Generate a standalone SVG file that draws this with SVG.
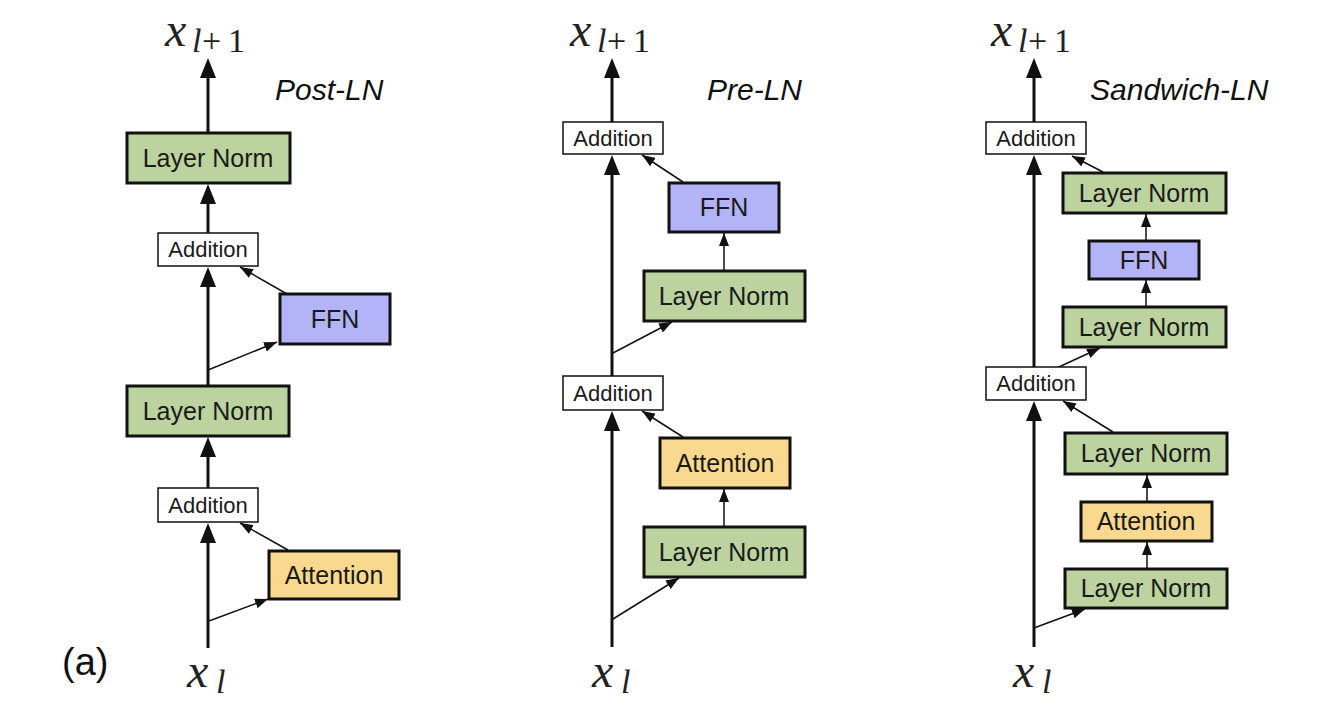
<svg xmlns="http://www.w3.org/2000/svg" width="1318" height="720" viewBox="0 0 1318 720">
<style>
.bg{fill:#ffffff}
.main{stroke:#111;stroke-width:3;fill:none;marker-end:url(#ah)}
.thin{stroke:#111;stroke-width:1.5;fill:none;marker-end:url(#as)}
.ln{fill:#bcd39f;stroke:#111;stroke-width:3}
.ffn{fill:#b3b3f7;stroke:#111;stroke-width:3}
.att{fill:#f8d98f;stroke:#111;stroke-width:3}
.add{fill:#ffffff;stroke:#111;stroke-width:1.5}
.t{font-family:"Liberation Sans",Arial,Helvetica,sans-serif;font-size:25px;fill:#1a1a1a;text-anchor:middle}
.ta{font-family:"Liberation Sans",Arial,Helvetica,sans-serif;font-size:22px;fill:#1a1a1a;text-anchor:middle}
.title{font-family:"Liberation Sans",Arial,Helvetica,sans-serif;font-size:30px;font-style:italic;fill:#111}
.mx{font-family:"Liberation Serif","Times New Roman",serif;font-size:48px;font-style:italic;fill:#222}
.ms{font-family:"Liberation Serif","Times New Roman",serif;font-size:34px;fill:#222}
.msi{font-family:"Liberation Serif","Times New Roman",serif;font-size:34px;font-style:italic;fill:#222}
.lab{font-family:"Liberation Sans",Arial,Helvetica,sans-serif;font-size:38px;fill:#111}
</style>
<defs>
<marker id="ah" viewBox="0 0 20 16" refX="12" refY="8" markerWidth="20" markerHeight="16" markerUnits="userSpaceOnUse" orient="auto"><path d="M0,0 L20,8 L0,16 z" fill="#111"/></marker>
<marker id="as" viewBox="0 0 13 10" refX="13" refY="5" markerWidth="13" markerHeight="10" markerUnits="userSpaceOnUse" orient="auto"><path d="M0,0 L13,5 L0,10 z" fill="#111"/></marker>
</defs>
<rect class="bg" x="0" y="0" width="1318" height="720"/>

<g id="connectors">
  <!-- Post-LN -->
  <line class="main" x1="208" y1="648" x2="208" y2="531"/>
  <line class="thin" x1="209" y1="621" x2="268" y2="599"/>
  <line class="thin" x1="288" y1="550" x2="240" y2="523"/>
  <line class="main" x1="208" y1="488" x2="208" y2="445"/>
  <line class="main" x1="208" y1="386" x2="208" y2="275"/>
  <line class="thin" x1="208" y1="370" x2="277" y2="342"/>
  <line class="thin" x1="287" y1="294" x2="240" y2="267"/>
  <line class="main" x1="208" y1="233" x2="208" y2="192"/>
  <line class="main" x1="208" y1="133" x2="208" y2="66"/>
  <!-- Pre-LN -->
  <line class="main" x1="612" y1="647" x2="612" y2="419"/>
  <line class="thin" x1="613" y1="619" x2="679" y2="578"/>
  <line class="thin" x1="724" y1="527" x2="724" y2="489"/>
  <line class="thin" x1="683" y1="437" x2="642" y2="411"/>
  <line class="main" x1="612" y1="376" x2="612" y2="163"/>
  <line class="thin" x1="613" y1="353" x2="672" y2="322"/>
  <line class="thin" x1="724" y1="271" x2="724" y2="233"/>
  <line class="thin" x1="683" y1="182" x2="642" y2="155"/>
  <line class="main" x1="612" y1="122" x2="612" y2="66"/>
  <!-- Sandwich-LN -->
  <line class="main" x1="1034" y1="647" x2="1034" y2="409"/>
  <line class="thin" x1="1034" y1="628" x2="1085" y2="609"/>
  <line class="thin" x1="1147" y1="569" x2="1147" y2="542"/>
  <line class="thin" x1="1147" y1="502" x2="1147" y2="475"/>
  <line class="thin" x1="1113" y1="432" x2="1063" y2="401"/>
  <line class="main" x1="1034" y1="367" x2="1034" y2="163"/>
  <line class="thin" x1="1035" y1="378" x2="1100" y2="348"/>
  <line class="thin" x1="1146" y1="307" x2="1146" y2="280"/>
  <line class="thin" x1="1146" y1="241" x2="1146" y2="214"/>
  <line class="thin" x1="1103" y1="172" x2="1072" y2="156"/>
  <line class="main" x1="1034" y1="122" x2="1034" y2="66"/>
</g>

<!-- Post-LN nodes -->
<g id="post-attention"><rect class="att" x="269" y="551" width="130" height="48"/><text class="t" x="334" y="584">Attention</text></g>
<g id="post-add2"><rect class="add" x="158" y="488" width="100" height="34"/><text class="ta" x="208" y="513">Addition</text></g>
<g id="post-ln1"><rect class="ln" x="127" y="386" width="162" height="50"/><text class="t" x="208" y="420">Layer Norm</text></g>
<g id="post-ffn"><rect class="ffn" x="280" y="294" width="110" height="50"/><text class="t" x="335" y="328">FFN</text></g>
<g id="post-add1"><rect class="add" x="158" y="233" width="100" height="33"/><text class="ta" x="208" y="257">Addition</text></g>
<g id="post-ln2"><rect class="ln" x="127" y="133" width="163" height="50"/><text class="t" x="208" y="167">Layer Norm</text></g>
<g id="post-labels">
  <text class="title" x="275" y="100">Post-LN</text>
  <text class="mx" x="165" y="46">x</text><text class="msi" x="192" y="52">l</text><text class="ms" x="202" y="52">+</text><text class="ms" x="228" y="52">1</text>
  <text class="mx" x="187" y="687">x</text><text class="msi" x="216" y="693">l</text>
  <text class="lab" x="62" y="675">(a)</text>
</g>

<!-- Pre-LN nodes -->
<g id="pre-ln1"><rect class="ln" x="644" y="527" width="161" height="50"/><text class="t" x="724" y="561">Layer Norm</text></g>
<g id="pre-attention"><rect class="att" x="660" y="438" width="130" height="50"/><text class="t" x="725" y="472">Attention</text></g>
<g id="pre-add2"><rect class="add" x="563" y="376" width="100" height="34"/><text class="ta" x="613" y="401">Addition</text></g>
<g id="pre-ln2"><rect class="ln" x="644" y="271" width="161" height="50"/><text class="t" x="724" y="305">Layer Norm</text></g>
<g id="pre-ffn"><rect class="ffn" x="669" y="183" width="110" height="49"/><text class="t" x="724" y="216">FFN</text></g>
<g id="pre-add1"><rect class="add" x="563" y="122" width="100" height="32"/><text class="ta" x="613" y="146">Addition</text></g>
<g id="pre-labels">
  <text class="title" x="707" y="100">Pre-LN</text>
  <text class="mx" x="570" y="46">x</text><text class="msi" x="597" y="52">l</text><text class="ms" x="607" y="52">+</text><text class="ms" x="633" y="52">1</text>
  <text class="mx" x="592" y="687">x</text><text class="msi" x="621" y="693">l</text>
</g>

<!-- Sandwich-LN nodes -->
<g id="sw-ln1"><rect class="ln" x="1065" y="569" width="162" height="39"/><text class="t" x="1146" y="597">Layer Norm</text></g>
<g id="sw-attention"><rect class="att" x="1081" y="502" width="131" height="39"/><text class="t" x="1146" y="530">Attention</text></g>
<g id="sw-ln2"><rect class="ln" x="1065" y="433" width="162" height="41"/><text class="t" x="1146" y="462">Layer Norm</text></g>
<g id="sw-add2"><rect class="add" x="986" y="367" width="100" height="33"/><text class="ta" x="1036" y="391">Addition</text></g>
<g id="sw-ln3"><rect class="ln" x="1063" y="307" width="163" height="40"/><text class="t" x="1144" y="336">Layer Norm</text></g>
<g id="sw-ffn"><rect class="ffn" x="1089" y="241" width="110" height="38"/><text class="t" x="1144" y="269">FFN</text></g>
<g id="sw-ln4"><rect class="ln" x="1063" y="173" width="163" height="40"/><text class="t" x="1144" y="202">Layer Norm</text></g>
<g id="sw-add1"><rect class="add" x="986" y="122" width="100" height="32"/><text class="ta" x="1036" y="146">Addition</text></g>
<g id="sw-labels">
  <text class="title" x="1090" y="100">Sandwich-LN</text>
  <text class="mx" x="991" y="46">x</text><text class="msi" x="1018" y="52">l</text><text class="ms" x="1028" y="52">+</text><text class="ms" x="1054" y="52">1</text>
  <text class="mx" x="1013" y="687">x</text><text class="msi" x="1042" y="693">l</text>
</g>
</svg>
